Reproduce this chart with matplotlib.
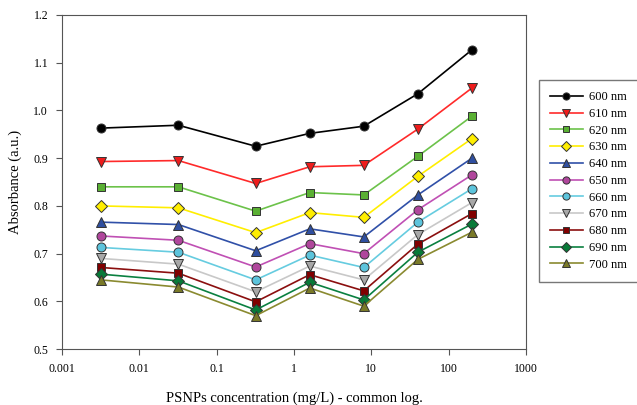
import numpy as np
import matplotlib.pyplot as plt

plt.rcParams['font.family'] = ['Liberation Serif', 'DejaVu Serif']

conc = [0.0032, 0.032, 0.32, 1.6, 8, 40, 200]
labels = ['600 nm', '610 nm', '620 nm', '630 nm', '640 nm', '650 nm',
          '660 nm', '670 nm', '680 nm', '690 nm', '700 nm']
a600 = [0.963, 0.969, 0.925, 0.952, 0.967, 1.035, 1.127]
a610 = [0.893, 0.895, 0.847, 0.882, 0.885, 0.961, 1.047]
a620 = [0.840, 0.840, 0.789, 0.828, 0.823, 0.904, 0.988]
a630 = [0.800, 0.796, 0.744, 0.786, 0.776, 0.862, 0.941]
a640 = [0.766, 0.761, 0.706, 0.752, 0.735, 0.823, 0.900]
a650 = [0.737, 0.728, 0.672, 0.721, 0.700, 0.792, 0.865]
a660 = [0.713, 0.703, 0.645, 0.697, 0.671, 0.766, 0.836]
a670 = [0.690, 0.678, 0.620, 0.674, 0.645, 0.740, 0.807]
a680 = [0.671, 0.659, 0.599, 0.656, 0.622, 0.720, 0.784]
a690 = [0.657, 0.643, 0.582, 0.640, 0.603, 0.703, 0.762]
a700 = [0.645, 0.630, 0.570, 0.628, 0.590, 0.688, 0.745]
series = [a600, a610, a620, a630, a640, a650, a660, a670, a680, a690, a700]

line_cols = ['#000000', '#ff2a2a', '#6cc24a', '#ffee00', '#3050a8', '#c050b4',
             '#66cce0', '#c8c8c8', '#8b0f0f', '#0a8040', '#8a8a30']
face_cols = ['#000000', '#ee1c1c', '#5ab033', '#ffee00', '#2f4fa0', '#b0469c',
             '#5cc4dc', '#a8a8a8', '#800000', '#087a38', '#7a7a28']
markers = ['o', 'v', 's', 'D', '^', 'o', 'o', 'v', 's', 'D', '^']
msizes = [6.5, 7, 6, 6, 6.5, 6.5, 6.5, 7, 6, 6, 6.5]

fig = plt.figure(figsize=(6.37, 4.05), dpi=100)
ax = fig.add_axes([0.0973, 0.138, 0.7284, 0.825])

for y, lab, lc, fc, m, ms in zip(series, labels, line_cols, face_cols, markers, msizes):
    ax.plot(conc, y, color=lc, lw=1.2, marker=m, markersize=ms,
            markerfacecolor=fc, markeredgecolor='#333333', markeredgewidth=0.7,
            label=lab)

ax.set_xscale('log')
ax.set_xlim(0.001, 1000)
ax.set_ylim(0.5, 1.2)
ax.set_xticks([0.001, 0.01, 0.1, 1, 10, 100, 1000])
ax.set_xticklabels(['0.001', '0.01', '0.1', '1', '10', '100', '1000'])
ax.xaxis.set_minor_locator(plt.NullLocator())
ax.set_yticks(np.arange(0.5, 1.21, 0.1))
ax.set_yticklabels(['0.5', '0.6', '0.7', '0.8', '0.9', '1.0', '1.1', '1.2'])
for s in ax.spines.values():
    s.set_color('#555555')
ax.tick_params(direction='out', length=4, color='#555555', labelsize=8.5, pad=6)
ax.set_xlabel('PSNPs concentration (mg/L) - common log.', fontsize=10.5, labelpad=12)
ax.set_ylabel('Absorbance (a.u.)', fontsize=10.5, labelpad=8)

leg = fig.legend(loc='upper left', bbox_to_anchor=(0.836, 0.818), fontsize=9,
                 frameon=True, fancybox=False, edgecolor='#555555',
                 handlelength=2.6, labelspacing=0.38, borderpad=0.9,
                 handletextpad=0.5, markerscale=0.8)
leg.get_frame().set_linewidth(1.0)

fig.savefig('out.png', dpi=100)
